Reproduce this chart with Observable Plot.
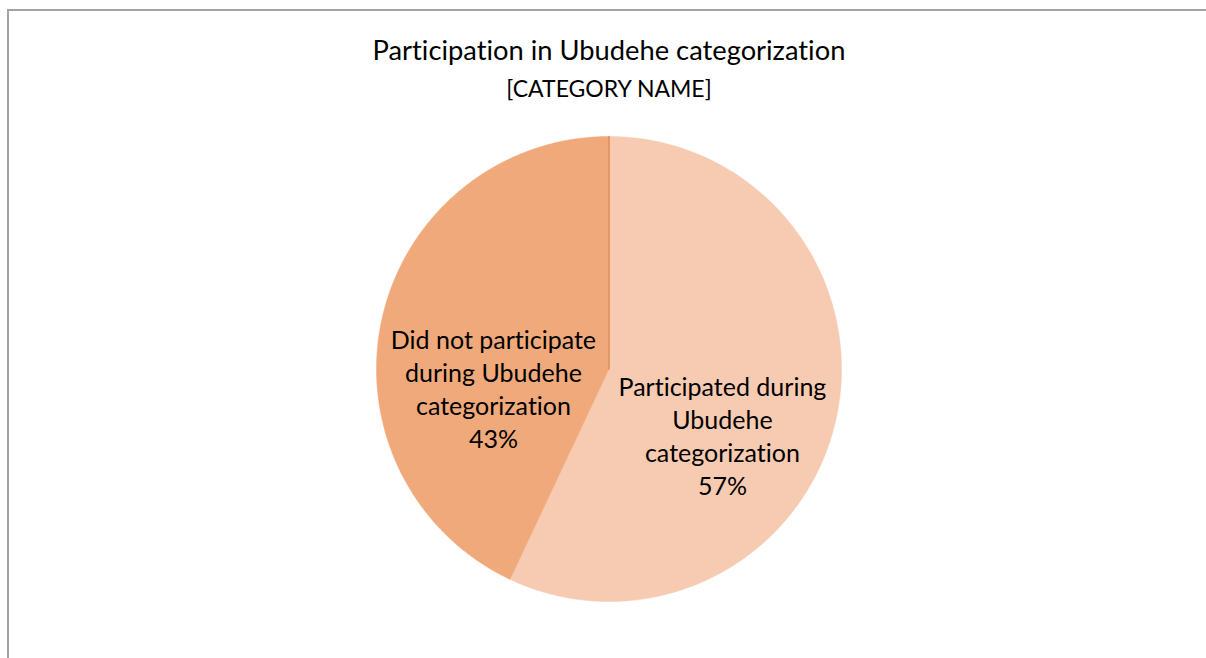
<!DOCTYPE html>
<html>
<head>
<meta charset="utf-8">
<script src="https://cdn.jsdelivr.net/npm/d3@7"></script>
<script src="https://cdn.jsdelivr.net/npm/@observablehq/plot@0.6"></script>
<style>
  html, body { margin: 0; padding: 0; background: #fff; overflow: hidden; width: 1206px; height: 658px; }
  #frame { position: absolute; left: 7px; top: 9px; width: 1400px; height: 900px; border: 2px solid #a3a3a3; box-sizing: border-box; }
  .t { position: absolute; left: 0; width: 1218px; text-align: center; font-family: Lato, "Open Sans", sans-serif; color: #000; white-space: nowrap; font-variant-ligatures: none; }
  #title { top: 33px; font-size: 27.3px; }
  #subtitle { top: 74px; font-size: 23px; }
  #chart { position: absolute; left: 0; top: 120px; }
  #chart text { font-variant-ligatures: none; }
</style>
</head>
<body>
<div id="frame"></div>
<div class="t" id="title">Participation in Ubudehe categorization</div>
<div class="t" id="subtitle">[CATEGORY NAME]</div>
<div id="chart"></div>
<script>
const categories = ["Participated during Ubudehe categorization", "Did not participate during Ubudehe categorization"];
const labelLines = [["Participated during", "Ubudehe", "categorization"], ["Did not participate", "during Ubudehe", "categorization"]];
const values = [57, 43];
const colors = ["#F7CAB2", "#F0A97A"];

const pie = d3.pie().sort(null).value(d => d.value);
const arcs = pie(categories.map((c, i) => ({category: c, value: values[i], color: colors[i], lines: labelLines[i]})));

// slice outlines in unit coordinates (angle measured clockwise from 12 o'clock)
const pts = [];
arcs.forEach((a, i) => {
  pts.push({slice: i, x: 0, y: 0});
  const n = Math.max(2, Math.ceil((a.endAngle - a.startAngle) / 0.01));
  for (let k = 0; k <= n; k++) {
    const t = a.startAngle + (a.endAngle - a.startAngle) * k / n;
    pts.push({slice: i, x: Math.sin(t), y: Math.cos(t)});
  }
});

// label positions
const labels = [];
const labelR = 0.5;
const labelOffsets = [[0.0, -0.175], [-0.009, -0.19]];
arcs.forEach((a, i) => {
  const mid = (a.startAngle + a.endAngle) / 2;
  const lx = Math.sin(mid) * labelR + labelOffsets[i][0];
  const ly = Math.cos(mid) * labelR + labelOffsets[i][1];
  const text = a.data.lines.join("\n") + "\n" + a.data.value + "%";
  labels.push({x: lx, y: ly, text});
});

// dividing line at the start angle (12 o'clock)
const divider = [{x: 0, y: 0}, {x: Math.sin(arcs[0].startAngle), y: Math.cos(arcs[0].startAngle)}];

const cx = 608.5, cy = 248.5, r = 232.5;
const plot = Plot.plot({
  width: 1206,
  height: 500,
  margin: 0,
  style: {background: "transparent", fontFamily: "Lato, 'Open Sans', sans-serif"},
  x: {domain: [-1, 1], range: [cx - r, cx + r], axis: null},
  y: {domain: [-1, 1], range: [cy + r, cy - r], axis: null},
  marks: [
    ...arcs.map((a, i) => Plot.line(pts.filter(p => p.slice === i), {x: "x", y: "y", fill: colors[i], stroke: colors[i], strokeWidth: 0.5, curve: "linear-closed"})),
    Plot.line(divider, {x: "x", y: "y", stroke: "#DE8E5B", strokeWidth: 1.5}),
    Plot.text(labels, {x: "x", y: "y", text: "text", fontSize: 25, lineHeight: 1.32, fill: "#000", lineAnchor: "middle"})
  ]
});
document.getElementById("chart").appendChild(plot);
</script>
</body>
</html>
